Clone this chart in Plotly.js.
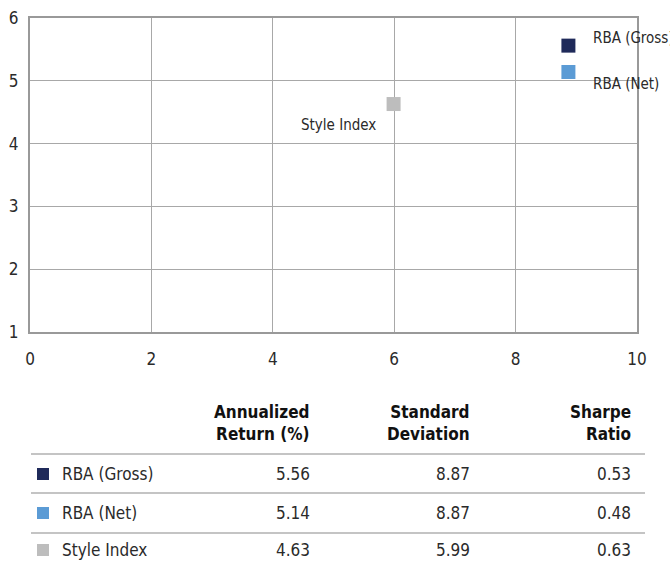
<!DOCTYPE html>
<html>
<head>
<meta charset="utf-8">
<script src="https://cdn.plot.ly/plotly-3.0.1.min.js"></script>
<style>html,body{margin:0;padding:0;background:#fff;}#chart{width:670px;height:562px;}</style>
</head>
<body>
<div id="chart"></div>
<script>
const categories = ['RBA (Gross)', 'RBA (Net)', 'Style Index'];
const annualizedReturn = [5.56, 5.14, 4.63];
const standardDeviation = [8.87, 8.87, 5.99];
const sharpeRatio = [0.53, 0.48, 0.63];
const seriesColors = ['#1f2a5a', '#5b9bd5', '#bdbdbd'];
const tableHeaders = ['Annualized<br>Return (%)', 'Standard<br>Deviation', 'Sharpe<br>Ratio'];
const xTicks = [0, 2, 4, 6, 8, 10];
const yTicks = [1, 2, 3, 4, 5, 6];

const FONT = '"Liberation Sans Narrow", "DejaVu Sans Condensed", Roboto, sans-serif';
const W = 670, H = 562;
const M = {l: 30, r: 33, t: 18, b: 230};
const pw = W - M.l - M.r, ph = H - M.t - M.b;
const px = x => (x - M.l) / pw;
const py = y => (H - M.b - y) / ph;

// point label offsets (pixels)
const labelStyle = [
  {xanchor: 'left', xshift: 23, yshift: 8},
  {xanchor: 'left', xshift: 23, yshift: -12},
  {xanchor: 'right', xshift: -16, yshift: -21}
];

const traces = categories.map((c, i) => ({
  type: 'scatter', mode: 'markers', name: c,
  x: [standardDeviation[i]], y: [annualizedReturn[i]],
  marker: {symbol: 'square', size: 14, color: seriesColors[i], line: {width: 0}},
  cliponaxis: false, hoverinfo: 'skip'
}));

const annotations = categories.map((c, i) => ({
  x: standardDeviation[i], y: annualizedReturn[i], xref: 'x', yref: 'y',
  text: c, showarrow: false, xanchor: labelStyle[i].xanchor, yanchor: 'middle',
  xshift: labelStyle[i].xshift, yshift: labelStyle[i].yshift,
  font: {family: FONT, size: 15, color: '#2a2a2a'}
}));

const colRight = [312, 472, 633];
const headerY = 423;
const rowY = [474, 513, 550];
const lineY = [454, 493, 533];

tableHeaders.forEach((h, j) => {
  annotations.push({
    xref: 'paper', yref: 'paper', x: px(colRight[j]), y: py(headerY),
    text: '<b>' + h + '</b>', showarrow: false, xanchor: 'right', yanchor: 'middle', align: 'right',
    font: {family: FONT, size: 17, color: '#111'}
  });
});

const shapes = [];
lineY.forEach(ly => {
  shapes.push({type: 'line', xref: 'paper', yref: 'paper', x0: px(31), x1: px(645), y0: py(ly), y1: py(ly),
    line: {color: '#b0b0b0', width: 1.5}});
});

categories.forEach((c, i) => {
  const ry = rowY[i];
  shapes.push({type: 'rect', xref: 'paper', yref: 'paper', x0: px(37), x1: px(49), y0: py(ry + 6), y1: py(ry - 6),
    fillcolor: seriesColors[i], line: {width: 0}});
  annotations.push({xref: 'paper', yref: 'paper', x: px(60), y: py(ry), text: c, showarrow: false,
    xanchor: 'left', yanchor: 'middle', font: {family: FONT, size: 17, color: '#2a2a2a'}});
  [annualizedReturn[i], standardDeviation[i], sharpeRatio[i]].forEach((v, j) => {
    annotations.push({xref: 'paper', yref: 'paper', x: px(colRight[j]), y: py(ry), text: v.toFixed(2),
      showarrow: false, xanchor: 'right', yanchor: 'middle', font: {family: FONT, size: 17, color: '#2a2a2a'}});
  });
});

const axisCommon = {
  showgrid: true, gridcolor: '#a8a8a8', gridwidth: 1,
  showline: true, linecolor: '#999999', linewidth: 2, mirror: true,
  zeroline: false, ticks: '', tickfont: {family: FONT, size: 17, color: '#2a2a2a'}, fixedrange: true
};

const layout = {
  width: W, height: H, margin: M, paper_bgcolor: '#fff', plot_bgcolor: '#fff', showlegend: false,
  xaxis: Object.assign({}, axisCommon, {range: [0, 10], tickvals: xTicks, ticktext: xTicks.map(String), ticklabelstandoff: 11}),
  yaxis: Object.assign({}, axisCommon, {range: [1, 6], tickvals: yTicks, ticktext: yTicks.map(String), ticklabelstandoff: 6}),
  annotations: annotations, shapes: shapes
};

Plotly.newPlot('chart', traces, layout, {displayModeBar: false, staticPlot: true});
</script>
</body>
</html>
